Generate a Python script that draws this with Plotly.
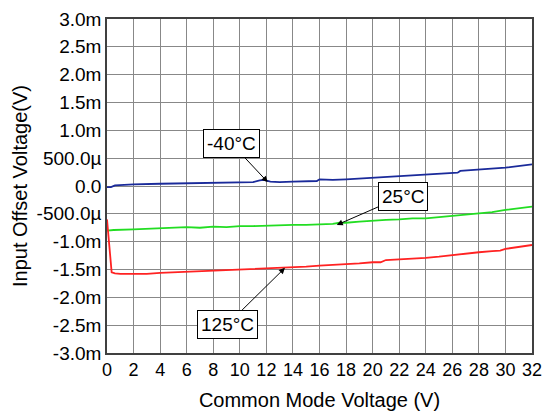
import plotly.graph_objects as go

# Data (offset voltage in mV)
x_m40 = [0, 0.3, 0.6, 2, 4, 6, 8, 10, 11, 11.5, 11.8, 12.3, 13, 14, 15, 15.8, 16, 17, 18, 20, 22, 24, 26.4, 26.6, 28, 30, 32]
y_m40 = [-0.02, -0.02, 0.01, 0.03, 0.04, 0.05, 0.05, 0.06, 0.07, 0.10, 0.11, 0.08, 0.07, 0.08, 0.09, 0.09, 0.12, 0.11, 0.12, 0.15, 0.18, 0.21, 0.24, 0.27, 0.29, 0.33, 0.39]

x_25 = [0, 0.5, 2, 3, 4, 5, 6, 7, 8, 9, 10, 11, 12, 13, 14, 15, 16, 17, 17.5, 18, 19, 20, 21, 22, 23, 24, 25, 26, 27, 28, 29, 30, 31, 32]
y_25 = [-0.80, -0.79, -0.78, -0.77, -0.77, -0.76, -0.74, -0.75, -0.73, -0.74, -0.72, -0.72, -0.71, -0.71, -0.70, -0.70, -0.69, -0.68, -0.66, -0.66, -0.64, -0.62, -0.61, -0.60, -0.58, -0.58, -0.56, -0.54, -0.52, -0.49, -0.47, -0.43, -0.40, -0.37]

x_125 = [0, 0.35, 0.6, 1, 2, 3, 4, 5, 6, 7, 8, 9, 10, 11, 12, 13, 14, 15, 16, 17, 18, 19, 20, 20.6, 21, 22, 23, 24, 25, 26, 27, 28, 29, 29.6, 30, 31, 32]
y_125 = [-0.60, -1.55, -1.57, -1.58, -1.58, -1.58, -1.56, -1.55, -1.54, -1.53, -1.52, -1.52, -1.51, -1.50, -1.49, -1.48, -1.46, -1.45, -1.43, -1.42, -1.40, -1.39, -1.37, -1.37, -1.33, -1.32, -1.30, -1.29, -1.27, -1.24, -1.22, -1.19, -1.17, -1.16, -1.13, -1.10, -1.06]

x_ticks = list(range(0, 33, 2))
y_tickvals = [3.0, 2.5, 2.0, 1.5, 1.0, 0.5, 0.0, -0.5, -1.0, -1.5, -2.0, -2.5, -3.0]
y_ticktext = ["3.0m", "2.5m", "2.0m", "1.5m", "1.0m", "500.0\u00b5", "0.0", "-500.0\u00b5",
              "-1.0m", "-1.5m", "-2.0m", "-2.5m", "-3.0m"]

labels = ["-40\u00b0C", "25\u00b0C", "125\u00b0C"]

fig = go.Figure()
fig.add_trace(go.Scatter(x=x_m40, y=y_m40, mode="lines", line=dict(color="#1a2a9a", width=1.8), name=labels[0]))
fig.add_trace(go.Scatter(x=x_25, y=y_25, mode="lines", line=dict(color="#22dd22", width=1.8), name=labels[1]))
fig.add_trace(go.Scatter(x=x_125, y=y_125, mode="lines", line=dict(color="#ff2222", width=1.8), name=labels[2]))

font = "Liberation Sans, Arial, sans-serif"

def ann(text, x, y, ax, ay):
    fig.add_annotation(text=text, x=x, y=y, ax=ax, ay=ay, xref="x", yref="y", axref="x", ayref="y",
                       showarrow=True, arrowhead=2, arrowsize=1.2, arrowwidth=1, arrowcolor="black",
                       bgcolor="white", bordercolor="black", borderwidth=1, borderpad=3,
                       font=dict(family=font, size=19, color="black"))

ann(labels[0], 12.1, 0.07, 9.35, 0.77)
ann(labels[1], 17.3, -0.70, 22.3, -0.18)
ann(labels[2], 13.4, -1.47, 9.1, -2.48)

fig.update_layout(
    width=543, height=415,
    margin=dict(l=107, r=11, t=19, b=62),
    paper_bgcolor="white", plot_bgcolor="white",
    showlegend=False,
    font=dict(family=font, size=19, color="black"),
    xaxis=dict(range=[0, 32], tickvals=x_ticks, ticks="", showgrid=True, gridcolor="#888888", gridwidth=1,
               zeroline=False, showline=True, linecolor="#404040", linewidth=1.5, mirror=True,
               automargin=False,
               title=dict(text="Common Mode Voltage (V)", font=dict(size=20), standoff=14),
               tickfont=dict(size=18)),
    yaxis=dict(range=[-3.0, 3.0], tickvals=y_tickvals, ticktext=y_ticktext, ticks="", showgrid=True,
               gridcolor="#888888", gridwidth=1, zeroline=False, showline=True, linecolor="#404040",
               linewidth=1.5, mirror=True, automargin=False,
               title=dict(text="Input Offset Voltage(V)", font=dict(size=20), standoff=4),
               tickfont=dict(size=19)),
)

fig.write_html("out.html", config={"displayModeBar": False},
               post_script="document.body.style.margin='0';document.body.style.overflow='hidden';")
